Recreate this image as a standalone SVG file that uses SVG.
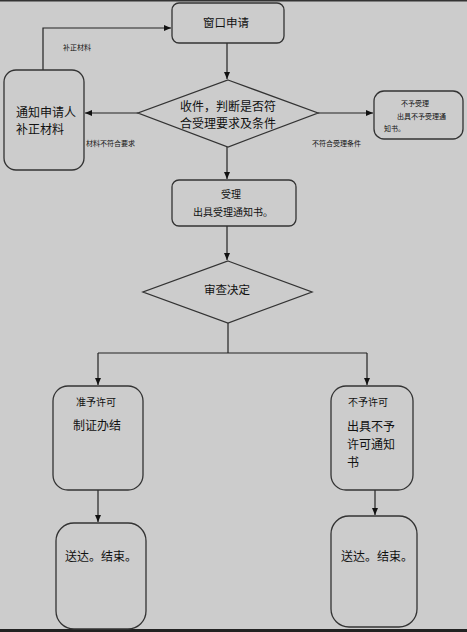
<svg xmlns="http://www.w3.org/2000/svg" width="467" height="632" viewBox="0 0 467 632">
<style>
.n{fill:#cccccc;stroke:#333;stroke-width:1.3}
.c{fill:none;stroke:#222;stroke-width:1.2}
text{font-family:"Noto Sans CJK SC","Liberation Sans",sans-serif;fill:#111}
.t12{font-size:12px}
.t11{font-size:11.5px}
.t10{font-size:10px}
.t7{font-size:7px}
</style>
<defs>
<marker id="ah" markerWidth="8" markerHeight="8" refX="7" refY="4" orient="auto" markerUnits="userSpaceOnUse">
<path d="M0,1 L7,4 L0,7 z" fill="#111"/>
</marker>
</defs>
<rect x="0" y="0" width="467" height="632" fill="#cccccc"/>
<rect x="0" y="0" width="467" height="1.5" fill="#333"/>
<rect x="0" y="629" width="467" height="3" fill="#222"/>
<g id="connectors">
<path class="c" d="M227,43 V79" marker-end="url(#ah)"/>
<path class="c" d="M43,70 V28 H171" marker-end="url(#ah)"/>
<path class="c" d="M138,113 H85" marker-end="url(#ah)"/>
<path class="c" d="M318,113 H373" marker-end="url(#ah)"/>
<path class="c" d="M227,147 V179" marker-end="url(#ah)"/>
<path class="c" d="M227,226 V260" marker-end="url(#ah)"/>
<path class="c" d="M228,323 V353"/>
<path class="c" d="M98,353 H367"/>
<path class="c" d="M98,353 V385" marker-end="url(#ah)"/>
<path class="c" d="M367,353 V385" marker-end="url(#ah)"/>
<path class="c" d="M98,490 V522" marker-end="url(#ah)"/>
<path class="c" d="M375,490 V515" marker-end="url(#ah)"/>
<text class="t7" x="63" y="50">补正材料</text>
<text class="t7" x="86" y="146">材料不符合要求</text>
<text class="t7" x="312" y="146">不符合受理条件</text>
</g>
<g id="window">
<rect class="n" x="172" y="3" width="112" height="40" rx="7"/>
<text class="t11" x="226" y="27" text-anchor="middle">窗口申请</text>
</g>
<g id="check">
<polygon class="n" points="228,80 318,113 228,147 138,113"/>
<text class="t12" x="228" y="111" text-anchor="middle">收件，判断是否符</text>
<text class="t12" x="228" y="128" text-anchor="middle">合受理要求及条件</text>
</g>
<g id="notify">
<rect class="n" x="4" y="70" width="80" height="100" rx="12"/>
<text class="t12" x="16" y="117">通知申请人</text>
<text class="t12" x="16" y="134">补正材料</text>
</g>
<g id="reject">
<rect class="n" x="374" y="91" width="89" height="48" rx="10"/>
<text class="t7" x="415" y="106" text-anchor="middle">不予受理</text>
<text class="t7" x="397" y="119">出具不予受理通</text>
<text class="t7" x="384" y="131">知书。</text>
</g>
<g id="accept">
<rect class="n" x="172" y="180" width="124" height="46" rx="7"/>
<text class="t10" x="231" y="198" text-anchor="middle">受理</text>
<text class="t10" x="233" y="216" text-anchor="middle">出具受理通知书。</text>
</g>
<g id="review">
<polygon class="n" points="228,261 312,292 228,323 143,292"/>
<text class="t11" x="227" y="294" text-anchor="middle">审查决定</text>
</g>
<g id="grant">
<rect class="n" x="53" y="386" width="90" height="104" rx="15"/>
<text class="t10" x="96" y="406" text-anchor="middle">准予许可</text>
<text class="t12" x="97" y="430" text-anchor="middle">制证办结</text>
</g>
<g id="deny">
<rect class="n" x="331" y="386" width="82" height="104" rx="15"/>
<text class="t10" x="348" y="406">不予许可</text>
<text class="t12" x="347" y="431">出具不予</text>
<text class="t12" x="347" y="449">许可通知</text>
<text class="t12" x="347" y="467">书</text>
</g>
<g id="end1">
<rect class="n" x="56" y="523" width="90" height="106" rx="18"/>
<text class="t12" x="65" y="561">送达。结束。</text>
</g>
<g id="end2">
<rect class="n" x="331" y="516" width="86" height="111" rx="18"/>
<text class="t12" x="341" y="561">送达。结束。</text>
</g>
</svg>
